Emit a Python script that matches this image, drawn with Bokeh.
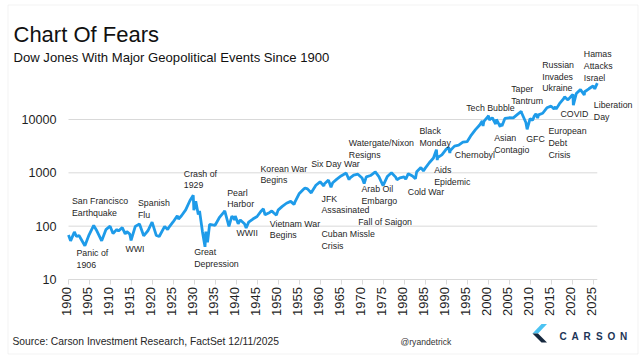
import math
from bokeh.plotting import figure
from bokeh.models import Range1d, Label, PolyAnnotation, LogScale, ColumnDataSource
from bokeh.core.properties import value
from bokeh.embed import file_html
from bokeh.resources import INLINE

# ---------------- data ----------------
years = [1900.0, 1900.5, 1901.4, 1901.9, 1902.5, 1903.9, 1904.9, 1906.0, 1906.6, 1907.9,
         1908.9, 1909.9, 1910.6, 1911.5, 1911.9, 1912.8, 1913.5, 1913.9, 1914.6, 1914.9,
         1915.9, 1916.9, 1917.9, 1918.9, 1919.9, 1920.9, 1921.6, 1922.9, 1923.6, 1923.9,
         1924.9, 1925.9, 1926.2, 1926.9, 1927.9, 1928.9, 1929.7, 1929.85, 1930.3, 1930.9,
         1931.2, 1931.9, 1932.5, 1932.7, 1933.1, 1933.6, 1934.9, 1935.9, 1936.9, 1937.2,
         1937.9, 1938.2, 1938.9, 1939.6, 1939.7, 1940.4, 1940.9, 1941.9, 1942.3, 1942.9,
         1943.9, 1944.9, 1945.9, 1946.4, 1946.8, 1947.9, 1948.4, 1948.9, 1949.5, 1949.9,
         1950.9, 1951.9, 1952.9, 1953.7, 1953.9, 1954.9, 1955.9, 1956.3, 1956.9, 1957.8,
         1957.9, 1958.9, 1959.9, 1960.8, 1960.9, 1961.9, 1962.5, 1962.9, 1963.9, 1964.9,
         1965.9, 1966.1, 1966.8, 1966.9, 1967.9, 1968.9, 1969.9, 1970.4, 1970.9, 1971.9,
         1972.9, 1973.0, 1973.9, 1974.9, 1975.9, 1976.9, 1977.9, 1978.2, 1978.9, 1979.9,
         1980.3, 1980.9, 1981.9, 1982.6, 1982.9, 1983.9, 1984.5, 1984.9, 1985.9, 1986.9,
         1987.6, 1987.8, 1987.9, 1988.9, 1989.9, 1990.5, 1990.8, 1990.9, 1991.9, 1992.9,
         1993.9, 1994.9, 1995.9, 1996.9, 1997.9, 1998.5, 1998.7, 1998.9, 1999.9, 2000.0,
         2000.2, 2000.9, 2001.7, 2001.9, 2002.8, 2002.9, 2003.2, 2003.9, 2004.9, 2005.9,
         2006.9, 2007.8, 2007.9, 2008.9, 2009.2, 2009.9, 2010.5, 2010.9, 2011.3, 2011.7,
         2011.9, 2012.9, 2013.9, 2014.9, 2015.6, 2015.9, 2016.1, 2016.9, 2017.9, 2018.1,
         2018.9, 2019.9, 2020.1, 2020.2, 2020.9, 2021.9, 2022.8, 2022.9, 2023.9, 2024.9,
         2025.3, 2025.9]
dow = [68, 53, 78, 64, 67, 43, 69, 103, 86, 53,
       86, 100, 73, 87, 81, 94, 72, 79, 71, 54,
       99, 110, 66, 82, 119, 67, 64, 99, 86, 95,
       120, 156, 136, 157, 202, 300, 381, 199, 294, 165,
       194, 78, 41, 79, 50, 108, 104, 144, 180, 194,
       121, 99, 155, 131, 155, 111, 131, 111, 93, 119,
       136, 152, 193, 212, 163, 181, 193, 177, 161, 200,
       235, 269, 292, 256, 281, 404, 488, 521, 500, 420,
       436, 584, 679, 566, 616, 731, 536, 652, 763, 874,
       969, 995, 744, 786, 905, 944, 800, 631, 839, 890,
       1020, 1052, 851, 577, 852, 1004, 831, 742, 805, 839,
       759, 964, 875, 777, 1047, 1258, 1087, 1212, 1547, 1896,
       2722, 1739, 1939, 2169, 2753, 2999, 2365, 2634, 3169, 3301,
       3754, 3834, 5117, 6448, 7908, 9338, 7539, 9181, 11497, 11723,
       9796, 10787, 8236, 10021, 7286, 8342, 7524, 10454, 10783, 10718,
       12463, 14165, 13265, 8776, 6547, 10428, 9686, 11578, 12810, 10655,
       12218, 13104, 16577, 17823, 15666, 17425, 15660, 19763, 24719, 26617,
       23327, 28538, 29551, 18592, 30606, 36338, 28725, 33147, 37690, 42544,
       37645, 48000]

x_ticks = [1900, 1905, 1910, 1915, 1920, 1925, 1930, 1935, 1940, 1945, 1950, 1955, 1960,
           1965, 1970, 1975, 1980, 1985, 1990, 1995, 2000, 2005, 2010, 2015, 2020, 2025]
x_tick_labels = [str(t) for t in x_ticks]
y_ticks = [10, 100, 1000, 10000]
y_tick_labels = ["10", "100", "1000", "10000"]

title_text = "Chart Of Fears"
subtitle_text = "Dow Jones With Major Geopolitical Events Since 1900"
source_text = "Source: Carson Investment Research, FactSet 12/11/2025"
handle_text = "@ryandetrick"
brand_text = "CARSON"

# event labels: text, and top-left corner of the text block (page pixels)
events = [
    ("San Francisco\nEarthquake", 71.5, 195.5),
    ("Panic of\n1906", 76, 247.5),
    ("WWI", 125, 243.8),
    ("Spanish\nFlu", 137.5, 197.5),
    ("Crash of\n1929", 183.3, 168.1),
    ("Great\nDepression", 193.7, 246.5),
    ("Pearl\nHarbor", 226.7, 187.1),
    ("WWII", 236, 227.1),
    ("Korean War\nBegins", 260, 163.1),
    ("Vietnam War\nBegins", 269.3, 218.1),
    ("Six Day War", 310.7, 158.5),
    ("JFK\nAssasinated", 321, 193.1),
    ("Cuban Missle\nCrisis", 321, 228.8),
    ("Watergate/Nixon\nResigns", 348.3, 137.5),
    ("Arab Oil\nEmbargo", 361, 183.8),
    ("Fall of Saigon", 357.7, 216.8),
    ("Cold War", 407.3, 186.8),
    ("Black\nMonday", 419, 125.5),
    ("Aids\nEpidemic", 433.7, 164.5),
    ("Chernobyl", 454.3, 149.8),
    ("Tech Bubble", 465.7, 102.5),
    ("Asian\nContagio", 493.7, 132.5),
    ("GFC", 525.7, 133.8),
    ("European\nDebt\nCrisis", 548, 125.8),
    ("Taper\nTantrum", 510.7, 83.5),
    ("Russian\nInvades\nUkraine", 541.7, 59.5),
    ("Hamas\nAttacks\nIsrael", 583.3, 48.8),
    ("Liberation\nDay", 593.3, 99.5),
    ("COVID", 560, 108.1),
]

# ---------------- geometry: whole canvas is the plotting frame ----------------
W, H = 639, 359
X0_PX, Y10_PX = 68, 279          # page pixel of year 1900 / of value 10
PX_PER_YEAR = 4.2
PX_PER_DECADE = 53.33


def X(px):
    return 1900 + (px - X0_PX) / PX_PER_YEAR


def Y(py):
    return 10 ** (1 + (Y10_PX - py) / PX_PER_DECADE)


FONT = value("Liberation Sans")
TXT = "#1f1f1f"
GRID = "#d9d9d9"

p = figure(width=W, height=H, title=None,
           x_range=Range1d(X(0), X(W)), y_range=Range1d(Y(H), Y(0)),
           y_axis_type="log", x_axis_location=None, y_axis_location=None,
           output_backend="svg", toolbar_location=None, min_border=0)
p.y_scale = LogScale()
p.outline_line_color = None
p.background_fill_color = "white"
p.border_fill_color = "white"
p.xgrid.visible = False
p.ygrid.visible = False

# horizontal gridlines at the y ticks (the lowest one is the x axis line)
p.segment(x0=[x_ticks[0]] * len(y_ticks), x1=[years[-1]] * len(y_ticks),
          y0=y_ticks, y1=y_ticks, line_color=GRID, line_width=1)
# x tick marks
p.segment(x0=x_ticks, x1=x_ticks, y0=[y_ticks[0]] * len(x_ticks),
          y1=[Y(Y10_PX + 5)] * len(x_ticks), line_color=GRID, line_width=1)
# x tick labels (vertical)
p.text(x=x_ticks, y=[Y(Y10_PX + 7.5)] * len(x_ticks), text=x_tick_labels,
       angle=math.pi / 2, text_align="right", text_baseline="middle", x_offset=-2,
       text_font=FONT, text_font_size="13px", text_color=TXT)
# y tick labels
p.text(x=[X(56)] * len(y_ticks), y=y_ticks, text=y_tick_labels,
       text_align="right", text_baseline="middle",
       text_font=FONT, text_font_size="12.6px", text_color=TXT)

# the series
p.line(years, dow, line_color="#1e9be9", line_width=2.8)

# event labels
src = ColumnDataSource(dict(
    text=[e[0] for e in events],
    x=[X(e[1]) for e in events],
    y=[Y(e[2]) for e in events],
))
p.text(x="x", y="y", text="text", source=src,
       text_font=FONT, text_font_size="8.8px", text_color=TXT,
       text_align="left", text_baseline="top", text_line_height=1.17)

# titles and footer
p.add_layout(Label(x=X(13), y=Y(34), text=title_text, text_font="Liberation Sans",
                   text_font_size="22px", text_color="#111111",
                   text_align="left", text_baseline="alphabetic"))
p.add_layout(Label(x=X(13), y=Y(57), text=subtitle_text, text_font="Liberation Sans",
                   text_font_size="13.1px", text_color="#111111",
                   text_align="left", text_baseline="alphabetic"))
p.add_layout(Label(x=X(12), y=Y(341), text=source_text, text_font="Liberation Sans",
                   text_font_size="10.3px", text_color="#262626",
                   text_align="left", text_baseline="middle"))
p.add_layout(Label(x=X(400), y=Y(341), text=handle_text, text_font="Liberation Sans",
                   text_font_size="8.6px", text_color="#333333",
                   text_align="left", text_baseline="middle"))

# Carson logo
p.add_layout(PolyAnnotation(xs=[X(541), X(546.5), X(537.5), X(532)],
                            ys=[Y(323.5), Y(323.5), Y(333), Y(333)],
                            fill_color="#4cc3f2", fill_alpha=1, line_color=None))
p.add_layout(PolyAnnotation(xs=[X(532), X(537.5), X(546.5), X(541)],
                            ys=[Y(333), Y(333), Y(342), Y(342)],
                            fill_color="#17293f", fill_alpha=1, line_color=None))
for i, ch in enumerate(brand_text):
    p.add_layout(Label(x=X(562.5 + 12.1 * i), y=Y(335.5), text=ch,
                       text_font="Liberation Sans", text_font_size="10px",
                       text_font_style="bold", text_color="#1d3557",
                       text_align="center", text_baseline="middle"))

# outer border
p.add_layout(PolyAnnotation(xs=[X(7.5), X(637.5), X(637.5), X(7.5)],
                            ys=[Y(4.5), Y(4.5), Y(353.5), Y(353.5)],
                            fill_alpha=0, line_color="#d4d4d4", line_width=1))

open("out.html", "w").write(file_html(p, INLINE))
